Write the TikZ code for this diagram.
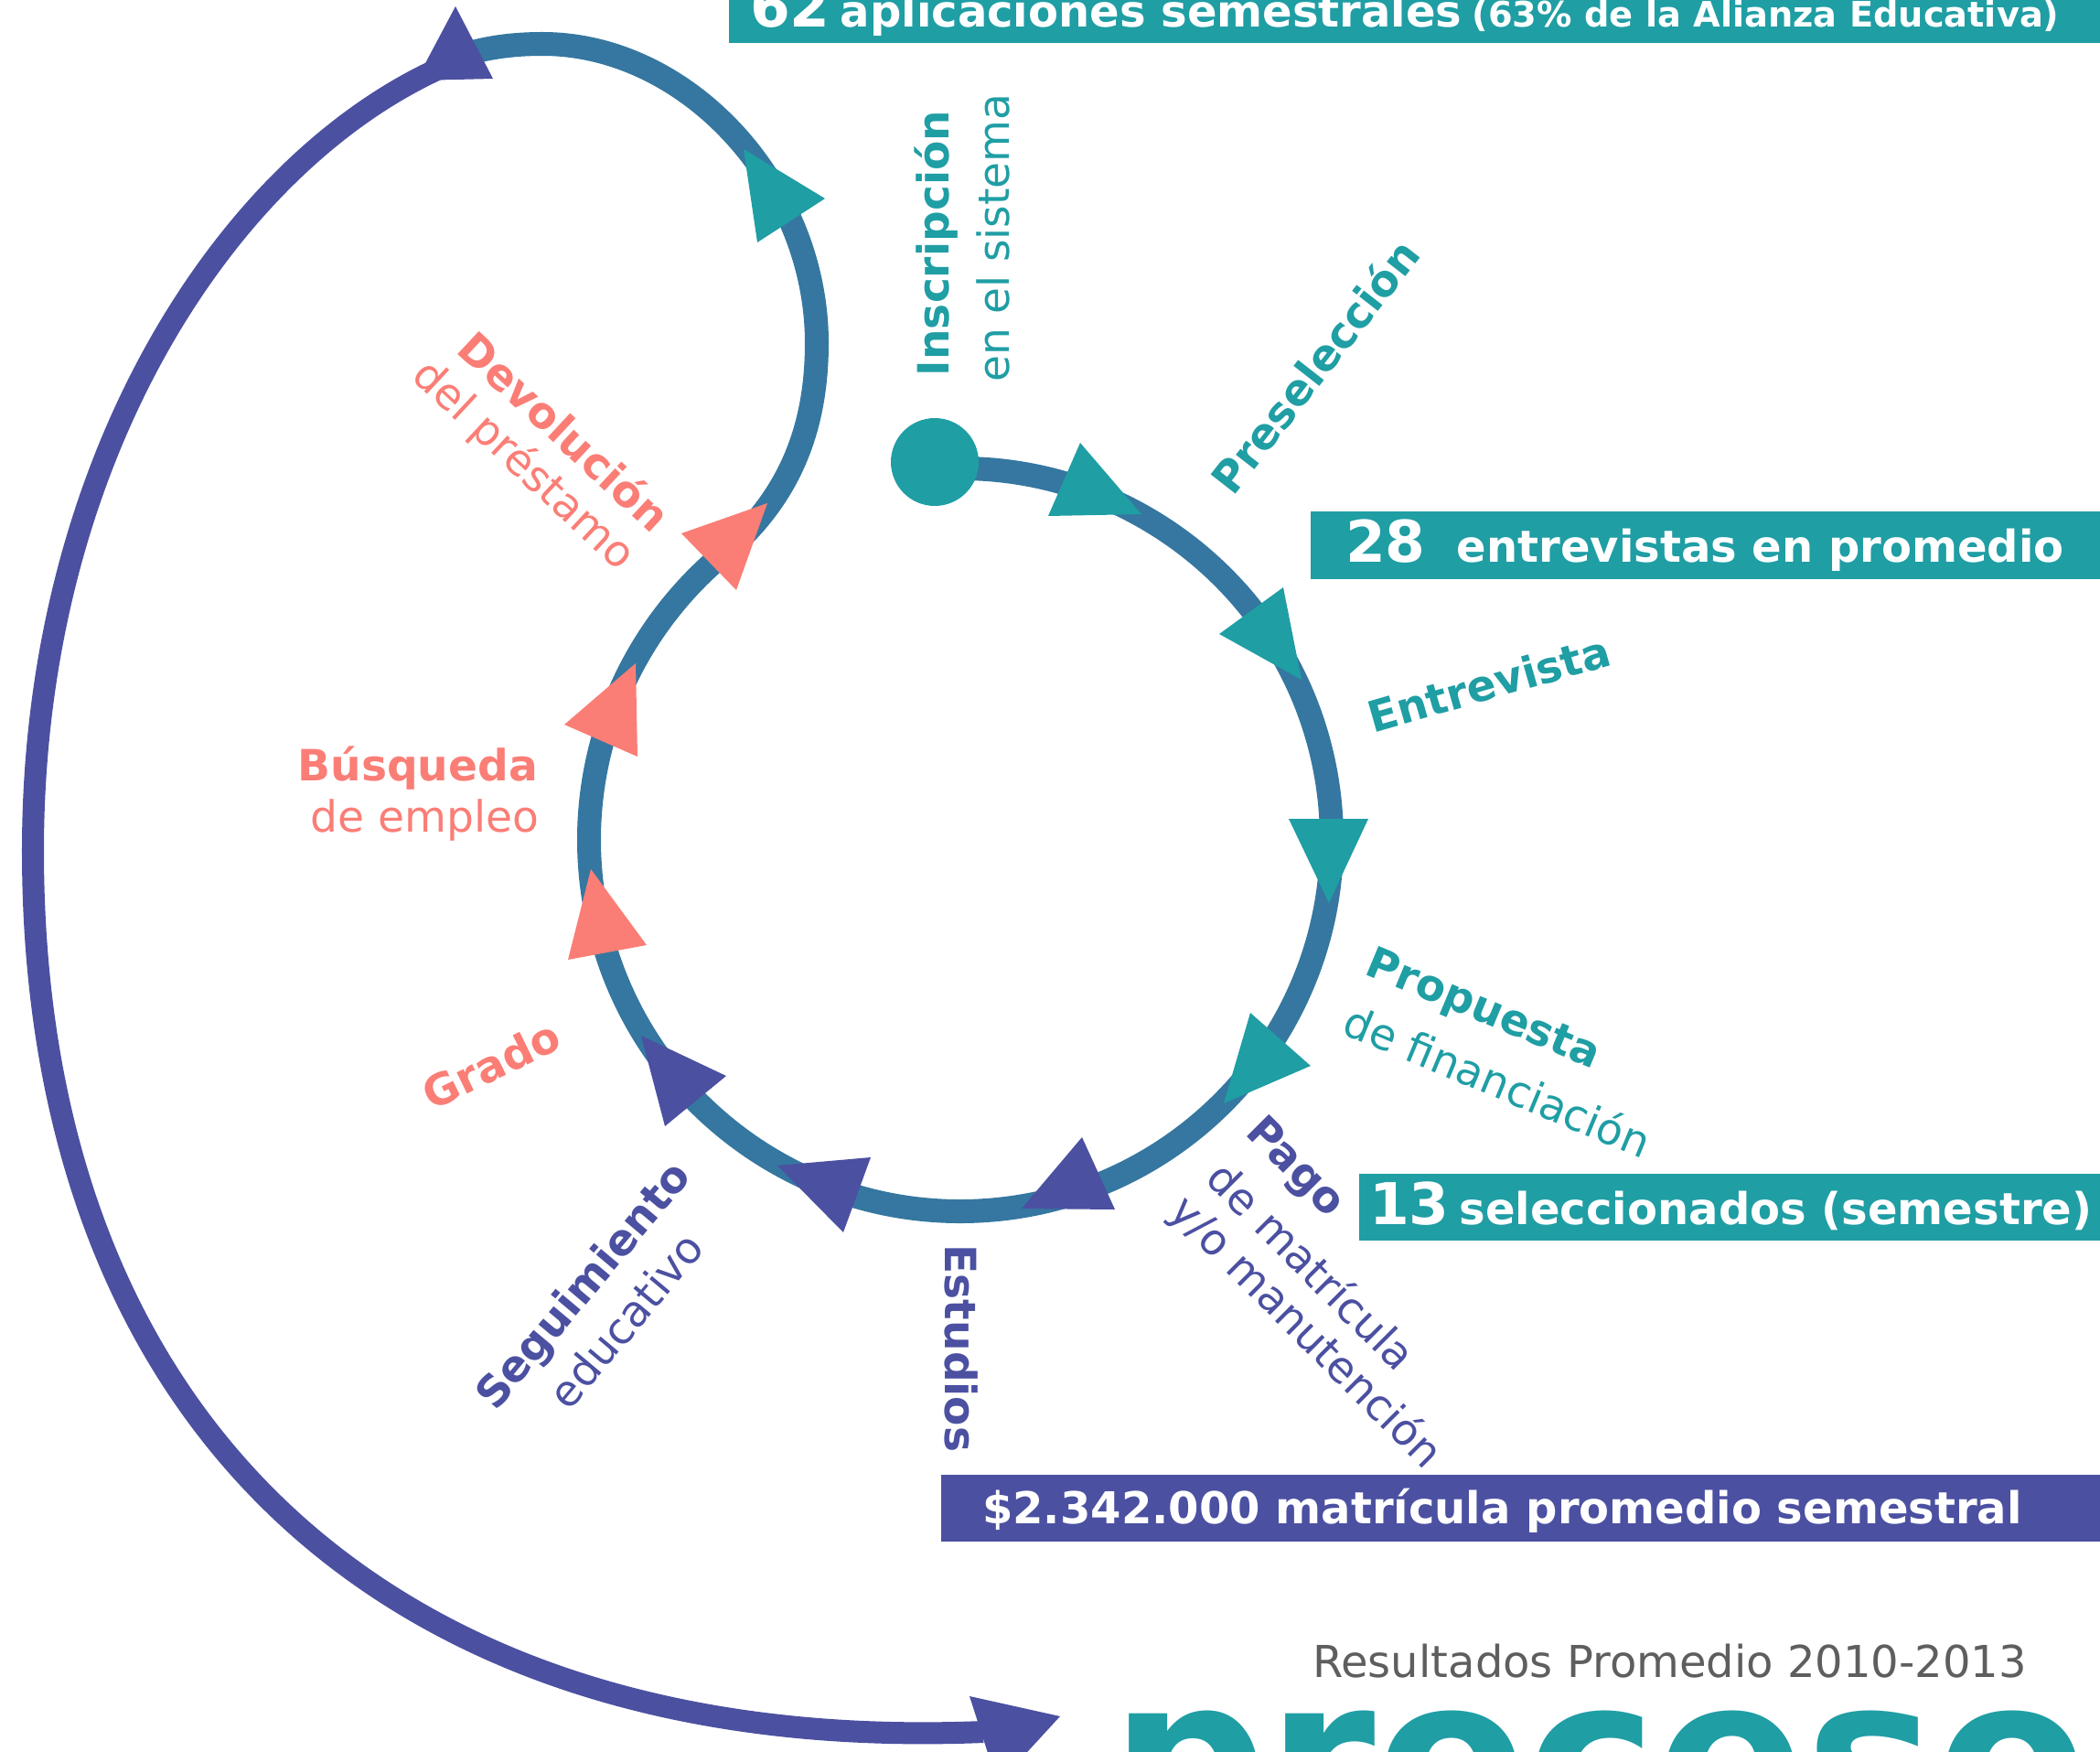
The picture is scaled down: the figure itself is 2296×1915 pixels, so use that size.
\documentclass[tikz,border=0pt]{standalone}
\usepackage{fontspec}
\setmainfont{DejaVu Sans}
\newcommand{\statnum}[1]{{\fontsize{17.9}{20}\selectfont\bfseries #1}}
\newcommand{\stattext}[1]{{\fontsize{13.66}{16}\selectfont\bfseries #1}}
\newcommand{\statnote}[1]{{\fontsize{10.9}{13}\selectfont\bfseries #1}}
\begin{document}
\begin{tikzpicture}[x=0.01cm,y=-0.01cm,
    every node/.style={inner sep=0pt,outer sep=0pt},
    stepname/.style={font=\fontsize{13.4}{16}\selectfont\bfseries},
    stepsub/.style={font=\fontsize{13.4}{16}\selectfont}]
\useasboundingbox (0,0) rectangle (2296,1915);
\clip (0,0) rectangle (2296,1915);

% Colours
\definecolor{r31g158b164}{RGB}{31,158,164}%
\definecolor{r53g119b160}{RGB}{53,119,160}%
\definecolor{r75g80b161}{RGB}{75,80,161}%
\definecolor{r250g126b118}{RGB}{250,126,118}%
\definecolor{r94g94b94}{RGB}{94,94,94}%

% Result boxes
\fill [r31g158b164] (797,-40) rectangle (2300,47);%
\node (apps) [anchor=base west, text=white] at (820,29) {\statnum{62} \stattext{aplicaciones semestrales} \statnote{(63\% de la Alianza Educativa)}};%
\fill [r31g158b164] (1433,559) rectangle (2300,633);%
\node (interv) [anchor=base west, text=white] at (1471,614) {\statnum{28}\hspace{9.7pt}\stattext{entrevistas en promedio}};%
\fill [r31g158b164] (1486,1283) rectangle (2300,1356);%
\node (selec) [anchor=base west, text=white] at (1497,1338) {\statnum{13} \stattext{seleccionados (semestre)}};%
\fill [r75g80b161] (1029,1612) rectangle (2300,1685);%
\node (fee) [anchor=base west, text=white] at (1074,1665) {\stattext{\$2.342.000 matrícula promedio semestral}};%

% Drawing return loop
\draw [line width=0.24cm, r75g80b161] (480,75) .. controls (250,180) and (36,500) .. (36,930) .. controls (36,1550) and (420,1920) .. (1075,1893);%

% Drawing process spiral
\draw [line width=0.26cm, r53g119b160] (1050,918) ++(-94:406) arc[start angle=-94, end angle=230, radius=406] .. controls (862,546) and (893,470) .. (893,375) .. controls (893,202) and (752,48) .. (593,48) .. controls (560,48) and (530,52) .. (500,62);%

% Marking steps (teal)
\fill [r31g158b164] (813,163) -- (902,217) -- (828,265) -- cycle;%
\fill [r31g158b164] (1181,484) -- (1248,562) -- (1146,564) -- cycle;%
\fill [r31g158b164] (1403,642) -- (1423,743) -- (1333,693) -- cycle;%
\fill [r31g158b164] (1409,895) -- (1496,895) -- (1453,987) -- cycle;%
\fill [r31g158b164] (1367,1107) -- (1433,1165) -- (1338,1206) -- cycle;%

% Marking steps (purple)
\fill [r75g80b161] (1183,1243) -- (1219,1322) -- (1117,1321) -- cycle;%
\fill [r75g80b161] (850,1274) -- (952,1265) -- (922,1347) -- cycle;%
\fill [r75g80b161] (701,1132) -- (794,1176) -- (727,1231) -- cycle;%
\fill [r75g80b161] (498,7) -- (539,86) -- (455,88) -- cycle;%
\fill [r75g80b161] (1060,1854) -- (1159,1876) -- (1091,1950) -- cycle;%

% Marking steps (salmon)
\fill [r250g126b118] (646,950) -- (707,1033) -- (621,1049) -- cycle;%
\fill [r250g126b118] (695,725) -- (697,827) -- (617,792) -- cycle;%
\fill [r250g126b118] (839,550) -- (805,645) -- (745,583) -- cycle;%

% Start point
\fill [r31g158b164] (1022,505) circle [radius=48];%

% Step labels
\node (inscr) [stepname, text=r31g158b164, rotate=90] at (1024,266) {Inscripción};%
\node (inscrb) [stepsub, text=r31g158b164, rotate=90] at (1086,260) {en el sistema};%
\node (presel) [stepname, text=r31g158b164, rotate=52] at (1437,400) {Preselección};%
\node (entrev) [stepname, text=r31g158b164, rotate=16] at (1628,747) {Entrevista};%
\node (prop) [stepname, text=r31g158b164, rotate=-22.6] at (1621,1105) {Propuesta};%
\node (propb) [stepsub, text=r31g158b164, rotate=-22.6] at (1638,1181) {de financiación};%
\node (pago) [stepname, text=r75g80b161, rotate=-45] at (1415,1277) {Pago};%
\node (pagob) [stepsub, text=r75g80b161, rotate=-45] at (1435,1383) {de matrícula};%
\node (pagoc) [stepsub, text=r75g80b161, rotate=-45] at (1427,1457) {y/o manutención};%
\node (estud) [stepname, text=r75g80b161, rotate=-90] at (1051,1474) {Estudios};%
\node (segui) [stepname, text=r75g80b161, rotate=50] at (640,1407) {Seguimiento};%
\node (seguib) [stepsub, text=r75g80b161, rotate=50] at (684,1443) {educativo};%
\node (grado) [stepname, text=r250g126b118, rotate=26] at (537,1164) {Grado};%
\node (busq) [stepname, text=r250g126b118, anchor=base east] at (588,853) {Búsqueda};%
\node (busqb) [stepsub, text=r250g126b118, anchor=base east] at (589,909) {de empleo};%
\node (devol) [stepname, text=r250g126b118, rotate=-43] at (618,471) {Devolución};%
\node (devolb) [stepsub, text=r250g126b118, rotate=-43] at (572,509) {del préstamo};%

% Title
\node (years) [anchor=base east, text=r94g94b94, font=\fontsize{13.66}{16}\selectfont] at (2216,1833) {Resultados Promedio 2010-2013};%
\node (title) [anchor=base west, text=r31g158b164, font=\fontsize{68.3}{70}\selectfont\bfseries] at (1214,2004) {proceso};%
\end{tikzpicture}
\end{document}
